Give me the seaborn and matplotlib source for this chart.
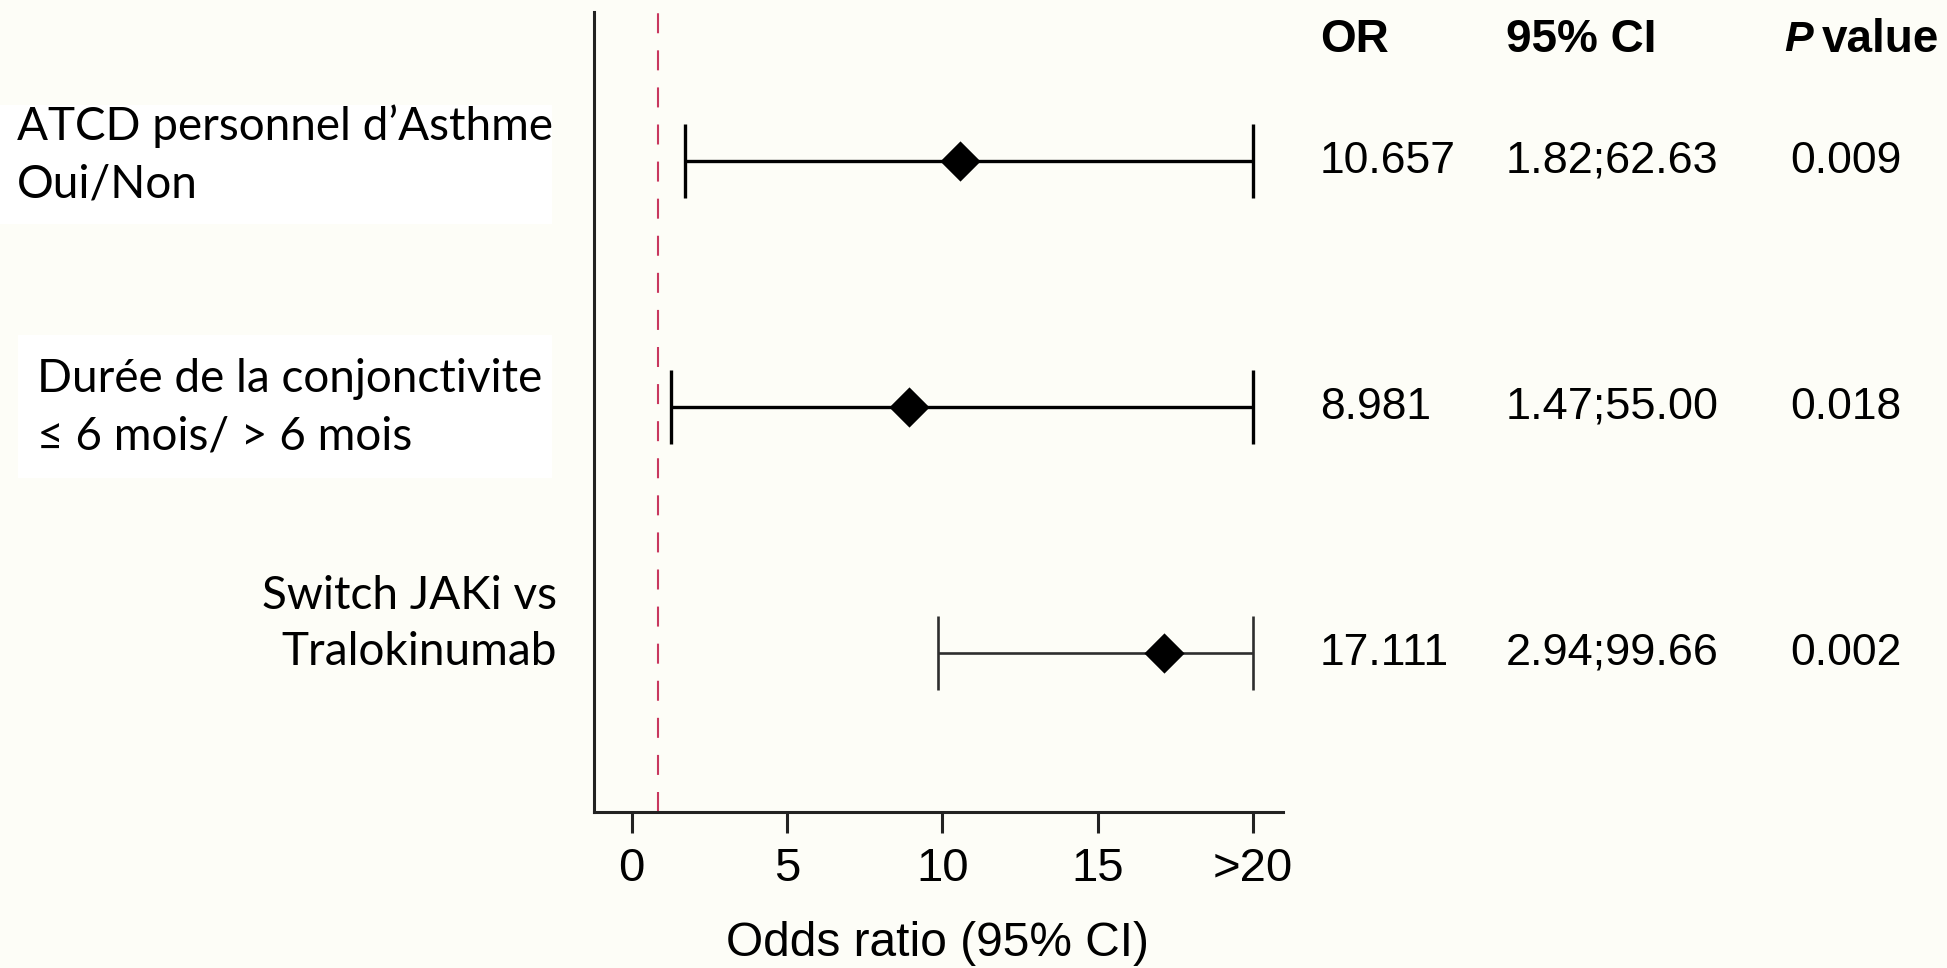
import numpy as np
import pandas as pd
import matplotlib
matplotlib.use("Agg")
import matplotlib.pyplot as plt
import seaborn as sns
from matplotlib.transforms import blended_transform_factory
from matplotlib.patches import Rectangle

# ---- data ----
labels = ["ATCD personnel d\u2019Asthme\nOui/Non",
          "Durée de la conjonctivite\n\u2264 6 mois/ > 6 mois",
          "Switch JAKi vs\nTralokinumab"]
odds = [10.58, 8.93, 17.13]
ci_low = [1.73, 1.26, 9.85]
ci_high = [20.0, 20.0, 20.0]
or_text = ["10.657", "8.981", "17.111"]
ci_text = ["1.82;62.63", "1.47;55.00", "2.94;99.66"]
p_text = ["0.009", "0.018", "0.002"]
xticks = [0, 5, 10, 15, 20]
xtick_labels = ["0", "5", "10", "15", ">20"]
ref_line = 0.85

sns.set_theme(style="ticks")
plt.rcParams['font.family'] = ['Liberation Sans', 'DejaVu Sans']
plt.rcParams['text.color'] = 'black'
plt.rcParams['xtick.color'] = 'black'
plt.rcParams['axes.labelcolor'] = 'black'

W, H = 1947, 968
BG = "#fdfdf7"
fig = plt.figure(figsize=(W / 100, H / 100), dpi=100, facecolor=BG)

def fx(px):
    return px / W

def fy(py):
    return 1 - py / H

ax = fig.add_axes([fx(593.5), fy(812), fx(1282.5) - fx(593.5), fy(12.4) - fy(812)])
ax.set_facecolor(BG)

df = pd.DataFrame({"label": labels, "odds": odds, "lo": ci_low, "hi": ci_high,
                   "row": np.arange(len(labels))})

# reference line
ax.axvline(ref_line, color="#c8385f", lw=1.5, dashes=(9.6, 8.2), zorder=1)

# confidence intervals
line_colors = ["#000000", "#000000", "#2e2e2e"]
line_widths = [2.4, 2.4, 1.9]
for i, r in df.iterrows():
    ax.errorbar([r["odds"]], [r["row"]],
                xerr=[[r["odds"] - r["lo"]], [r["hi"] - r["odds"]]],
                fmt="none", ecolor=line_colors[i], elinewidth=line_widths[i],
                capsize=26.6, capthick=line_widths[i], zorder=2)

sns.scatterplot(data=df, x="odds", y="row", marker="D", s=420, color="black",
                edgecolor="black", linewidth=0, ax=ax, zorder=3, legend=False)

ax.set_xlim(-1.23, 20.95)
ax.set_ylim(2.645, -0.606)
ax.set_yticks([])
ax.set_xticks(xticks)
ax.set_xticklabels(xtick_labels, fontsize=34)
ax.tick_params(axis="x", length=15, width=2.2, color="#222222", pad=10)
for s in ["top", "right"]:
    ax.spines[s].set_visible(False)
for s in ["left", "bottom"]:
    ax.spines[s].set_linewidth(2.2)
    ax.spines[s].set_color("#222222")
ax.set_xlabel("")
ax.set_ylabel("")

fig.text(fx(937), fy(944), "Odds ratio (95% CI)", ha="center", va="center", fontsize=34.5)

# table columns
tr = blended_transform_factory(fig.transFigure, ax.transData)
fig.text(fx(1320), fy(40), "OR", fontsize=33, fontweight="bold", ha="left", va="center")
fig.text(fx(1506), fy(40), "95% CI", fontsize=33, fontweight="bold", ha="left", va="center")
fig.text(fx(1784), fy(40), "P", fontsize=31, fontweight="bold", fontstyle="italic",
         ha="left", va="center")
fig.text(fx(1822), fy(40), "value", fontsize=33, fontweight="bold", ha="left", va="center")
for i in range(len(labels)):
    ax.text(fx(1320), i, or_text[i], transform=tr, fontsize=32, ha="left", va="center")
    ax.text(fx(1506), i, ci_text[i], transform=tr, fontsize=32.5, ha="left", va="center")
    ax.text(fx(1790), i, p_text[i], transform=tr, fontsize=32, ha="left", va="center")

# row labels with white boxes
fig.patches.append(Rectangle((fx(0), fy(224)), fx(552), fy(105) - fy(224),
                             transform=fig.transFigure, facecolor="white", edgecolor="none", zorder=0))
fig.patches.append(Rectangle((fx(18), fy(478)), fx(552) - fx(18), fy(335) - fy(478),
                             transform=fig.transFigure, facecolor="white", edgecolor="none", zorder=0))
lab_font = ['Lato', 'DejaVu Sans']
fig.text(fx(17), fy(155), labels[0], family=lab_font, fontsize=33, ha="left", va="center",
         linespacing=1.45)
fig.text(fx(37), fy(408), labels[1], family=lab_font, fontsize=33, ha="left", va="center",
         linespacing=1.45)
fig.text(fx(557), fy(624), labels[2], family=lab_font, fontsize=33, ha="right", va="center",
         multialignment="right", linespacing=1.4)

fig.savefig("out.png", dpi=100, facecolor=BG)
